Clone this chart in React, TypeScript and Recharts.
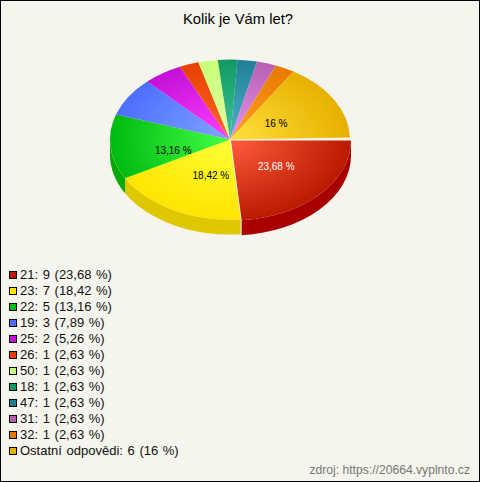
import React from 'react';
import { PieChart, Pie, Legend } from 'recharts';

const names = ['21', '23', '22', '19', '25', '26', '50', '18', '47', '31', '32', 'Ostatní odpovědi'];
const counts = [9, 7, 5, 3, 2, 1, 1, 1, 1, 1, 1, 6];
const percents = ['23,68', '18,42', '13,16', '7,89', '5,26', '2,63', '2,63', '2,63', '2,63', '2,63', '2,63', '16'];
const baseColors = ['#bb1a00', '#ffe400', '#00bb10', '#4d6eff', '#c410d8', '#e84000', '#c8ff78', '#109a60', '#207f98', '#b860b0', '#e87800', '#e8b000'];
const lightColors = ['#ff5c3c', '#ffff38', '#44ff44', '#80a4ff', '#ff40ff', '#ff6624', '#e4ffa4', '#40c498', '#50b4c4', '#e494f4', '#ffa424', '#ffe03c'];
const wallColors = ['#a80000', '#e0c800', '#00a800', '#3050d0', '#a000b0', '#c03000', '#a0d060', '#007a40', '#006070', '#904090', '#c06000', '#c09000'];
const labelColors = ['#ffffff', '#000000', '#000000', '', '', '', '', '', '', '', '', '#000000'];

const FONT = '"Liberation Sans", Arial, sans-serif';
const Y_RATIO = 2 / 3;
const DEPTH = 15;
const SWEEP_END = -358.5;

const rows = names.map((name, i) => ({
  name,
  value: counts[i],
  fill: baseColors[i],
  light: lightColors[i],
  wall: wallColors[i],
  pct: percents[i],
  labelColor: labelColors[i],
}));

const shift = (index: number) => (index === 0 ? 1 : 0);
const rad = (deg: number) => (deg * Math.PI) / 180;

function TopSlice(props: any) {
  const { cx, cy, outerRadius: r, startAngle, endAngle, index, payload } = props;
  const row = payload ?? props;
  const i = index ?? 0;
  const x0 = cx + shift(i);
  const y0 = cy + shift(i);
  const ry = r * Y_RATIO;
  const a = rad(-startAngle);
  const b = rad(-endAngle);
  const large = Math.abs(b - a) > Math.PI ? 1 : 0;
  const d = `M${x0},${y0}L${x0 + r * Math.cos(a)},${y0 + ry * Math.sin(a)}A${r},${ry} 0 ${large} 1 ${x0 + r * Math.cos(b)},${y0 + ry * Math.sin(b)}Z`;
  const id = `slice-grad-${i}`;
  return (
    <g>
      <defs>
        <radialGradient id={id} gradientUnits="userSpaceOnUse" cx={0} cy={0} r={1}
          gradientTransform={`translate(${x0} ${y0}) scale(${r} ${ry})`}>
          <stop offset="0" stopColor={row.light} />
          <stop offset="1" stopColor={row.fill} />
        </radialGradient>
      </defs>
      <path d={d} fill={`url(#${id})`} />
    </g>
  );
}

function WallSlice(props: any) {
  const { cx, cy, outerRadius: r, startAngle, endAngle, index, payload } = props;
  const row = payload ?? props;
  const i = index ?? 0;
  const a = rad(Math.max(-startAngle, 0));
  const b = rad(Math.min(-endAngle, 180));
  if (-startAngle >= 180) return <g />;
  const x0 = cx + shift(i);
  const y0 = cy + shift(i);
  const ry = r * Y_RATIO;
  const ax = x0 + r * Math.cos(a);
  const ay = y0 + ry * Math.sin(a);
  const bx = x0 + r * Math.cos(b);
  const by = y0 + ry * Math.sin(b);
  const d = `M${ax},${ay}A${r},${ry} 0 0 1 ${bx},${by}L${bx},${by + DEPTH}A${r},${ry} 0 0 0 ${ax},${ay + DEPTH}Z`;
  return <path d={d} fill={row.wall} />;
}

const labelNudge: Record<number, [number, number]> = {
  0: [2, 0],
  1: [9, 1],
  2: [3, 7],
  11: [-6, 4],
};

function SliceLabel(props: any) {
  const { cx, cy, outerRadius: r, midAngle, index, payload } = props;
  const row = payload ?? props;
  if (!row.labelColor) return <g />;
  const n = labelNudge[index] ?? [0, 0];
  const t = rad(-midAngle);
  const x = cx + 0.5 * r * Math.cos(t) + n[0];
  const y = cy + 0.5 * r * Y_RATIO * Math.sin(t) + n[1];
  return (
    <text x={x} y={y} textAnchor="middle" dominantBaseline="central" fontFamily={FONT} fontSize={10} fill={row.labelColor}>
      {row.pct} %
    </text>
  );
}

function LegendBox() {
  return (
    <div style={{ fontFamily: FONT, fontSize: 13, wordSpacing: 1, lineHeight: '16px', color: '#111', whiteSpace: 'nowrap' }}>
      {rows.map((row) => (
        <div key={row.name} style={{ height: 16, position: 'relative', paddingLeft: 11 }}>
          <span style={{ position: 'absolute', left: 0, top: 4, width: 6, height: 6, border: '1px solid #000', background: row.fill }} />
          {row.name}: {row.value} ({row.pct} %)
        </div>
      ))}
    </div>
  );
}

export default function App() {
  return (
    <div style={{ position: 'absolute', left: 0, top: 0, width: 480, height: 482, background: '#f5f5ed', boxShadow: 'inset 0 0 0 1px #000' }}>
      <PieChart width={480} height={482} margin={{ top: 0, right: 0, bottom: 0, left: 0 }}>
        <Pie data={rows} dataKey="value" nameKey="name" cx={230} cy={139.5} outerRadius={120}
          startAngle={0} endAngle={SWEEP_END} legendType="none" stroke="none"
          shape={WallSlice} isAnimationActive={false} />
        <Pie data={rows} dataKey="value" nameKey="name" cx={230} cy={139.5} outerRadius={120}
          startAngle={0} endAngle={SWEEP_END} stroke="none"
          shape={TopSlice} label={SliceLabel} labelLine={false} isAnimationActive={false} />
        <Legend content={<LegendBox />} wrapperStyle={{ position: 'absolute', left: 9, top: 267, width: 300, height: 200 }} />
        <text x={238} y={19} textAnchor="middle" dominantBaseline="central" fontFamily={FONT} fontSize={14.8} fill="#000">Kolik je Vám let?</text>
        <text x={470} y={470} textAnchor="end" dominantBaseline="central" fontFamily={FONT} fontSize={12.15} fill="#777">zdroj: https://20664.vyplnto.cz</text>
      </PieChart>
    </div>
  );
}
